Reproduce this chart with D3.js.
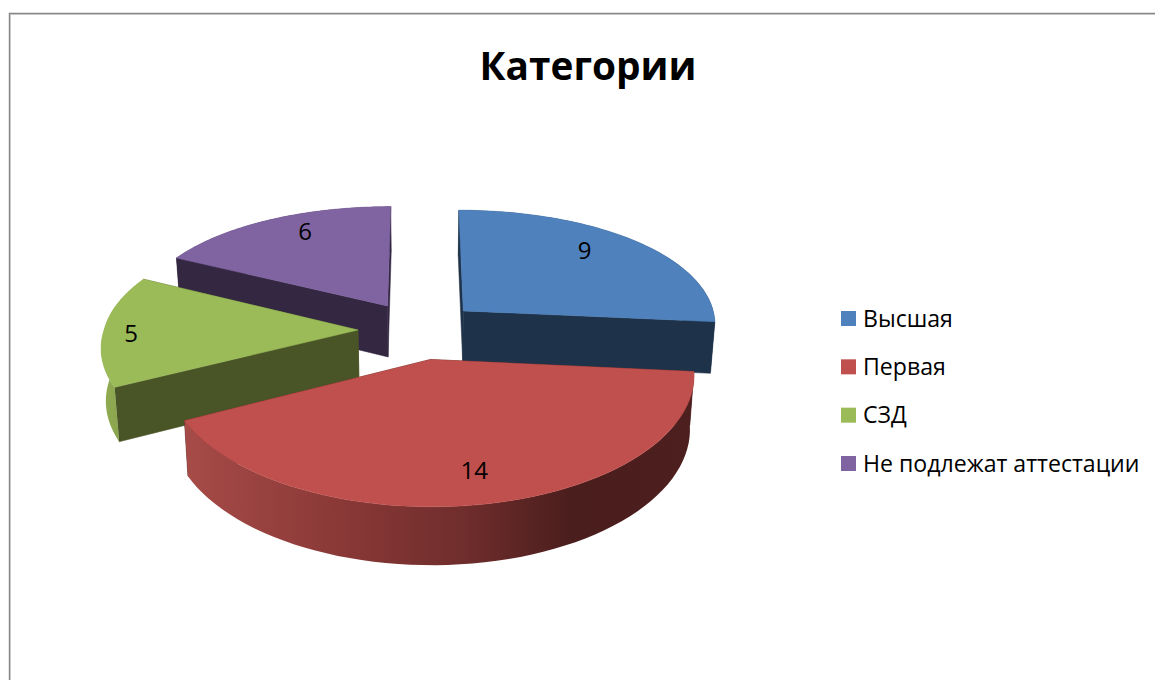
<!DOCTYPE html>
<html>
<head>
<meta charset="utf-8">
<script src="https://cdn.jsdelivr.net/npm/d3@7"></script>
<style>
  body { margin: 0; background: #fff; }
  text { font-family: "Open Sans", "Noto Sans", sans-serif; fill: #000; }
</style>
</head>
<body>
<div id="chart"></div>
<script>
var title = "Категории";
var categories = ["Высшая", "Первая", "СЗД", "Не подлежат аттестации"];
var values = [9, 14, 5, 6];

var topColors = ["#4f81bd", "#c0504d", "#9bbb59", "#8064a2"];
var wallColors = ["#1e3349", "#4d1f1e", "#4a5527", "#332741"];

var width = 1155, height = 680;
var cx = 419, cy = 330, radius = 254, tilt = 0.475;
var depth = 52, explode = 0.24, shrink = 0.985;

// where each number sits, as offset from the slice apex in radius units (u, v)
var labelPos = [[0.525, -0.56], [0.149, 0.777], [-0.89, 0.025], [-0.368, -0.717]];

var svg = d3.select("#chart").append("svg")
    .attr("width", width)
    .attr("height", height)
    .style("display", "block");

var defs = svg.append("defs");

var redGrad = defs.append("linearGradient")
    .attr("id", "redSide")
    .attr("gradientUnits", "userSpaceOnUse")
    .attr("x1", 185).attr("x2", 694).attr("y1", 0).attr("y2", 0);
[[0, "#a64b48"], [0.3, "#8a3937"], [0.55, "#6f2d2c"], [0.76, "#4a1e1d"], [1, "#4d1f1e"]].forEach(function(s) {
    redGrad.append("stop").attr("offset", s[0]).attr("stop-color", s[1]);
});

var greenGrad = defs.append("linearGradient")
    .attr("id", "greenSide")
    .attr("gradientUnits", "userSpaceOnUse")
    .attr("x1", 98).attr("x2", 118).attr("y1", 0).attr("y2", 0);
[[0, "#93af54"], [1, "#8aa54e"]].forEach(function(s) {
    greenGrad.append("stop").attr("offset", s[0]).attr("stop-color", s[1]);
});

var pie = d3.pie().sort(null);
var slices = pie(values);

// ground plane -> screen, with z = 1 being the bottom of the pie
function project(u, v, z) {
    var sx = 1 + (v < 0 ? 0.1 : 0.125) * v;
    var sy = 1 + (v < 0 ? 0.125 : 0.15) * v;
    var x = cx + radius * u * sx;
    var y = cy + radius * tilt * v * sy + z * depth * (1 + 0.1 * v);
    if (z) x = cx + (x - cx) * shrink;
    return [x, y];
}

function offset(d) {
    var mid = (d.startAngle + d.endAngle) / 2;
    return [Math.sin(mid) * explode, -Math.cos(mid) * explode];
}

function rim(d, a, z) {
    var o = offset(d);
    return project(o[0] + Math.sin(a), o[1] - Math.cos(a), z);
}

function arcAngles(d) {
    return d3.range(0, 61).map(function(i) {
        return d.startAngle + (d.endAngle - d.startAngle) * i / 60;
    });
}

var line = d3.line();

// back slices first
var drawOrder = [3, 0, 2, 1];

drawOrder.forEach(function(i) {
    var d = slices[i];
    var o = offset(d);
    var g = svg.append("g");
    var apexT = project(o[0], o[1], 0), apexB = project(o[0], o[1], 1);

    [d.startAngle, d.endAngle].forEach(function(a) {
        g.append("path")
            .attr("d", line([apexT, rim(d, a, 0), rim(d, a, 1), apexB]) + "Z")
            .attr("fill", wallColors[i])
            .attr("stroke", wallColors[i])
            .attr("stroke-width", 0.5);
    });

    var angles = arcAngles(d);
    var side = angles.map(function(a) { return rim(d, a, 0); })
        .concat(angles.slice().reverse().map(function(a) { return rim(d, a, 1); }));
    var sideFill = i === 1 ? "url(#redSide)" : i === 2 ? "url(#greenSide)" : wallColors[i];
    g.append("path")
        .attr("d", line(side) + "Z")
        .attr("fill", sideFill);

    var top = [apexT].concat(angles.map(function(a) { return rim(d, a, 0); }));
    g.append("path")
        .attr("d", line(top) + "Z")
        .attr("fill", topColors[i])
        .attr("stroke", topColors[i])
        .attr("stroke-width", 0.5);
});

// data labels
slices.forEach(function(d, i) {
    var o = offset(d);
    var p = project(o[0] + labelPos[i][0], o[1] + labelPos[i][1], 0);
    svg.append("text")
        .attr("x", p[0])
        .attr("y", p[1] + 8.5)
        .attr("text-anchor", "middle")
        .attr("font-size", 24)
        .text(d.data);
});

// frame
svg.append("path").attr("d", "M10.5,680V14.5H1155").attr("fill", "none").attr("stroke", "#dcdcdc").attr("stroke-width", 1);
svg.append("path").attr("d", "M9.5,680V13.5H1155").attr("fill", "none").attr("stroke", "#868686").attr("stroke-width", 1.4);

svg.append("text")
    .attr("x", 588)
    .attr("y", 80)
    .attr("text-anchor", "middle")
    .attr("font-size", 38.8)
    .attr("font-weight", 700)
    .text(title);

// legend
var legendY = d3.scalePoint().domain(categories).range([319, 464]);
var legend = svg.selectAll(".legend")
    .data(categories)
    .enter().append("g")
    .attr("class", "legend")
    .attr("transform", function(d) { return "translate(841," + legendY(d) + ")"; });

legend.append("rect")
    .attr("y", -8)
    .attr("width", 15)
    .attr("height", 15)
    .attr("fill", function(d, i) { return topColors[i]; });

legend.append("text")
    .attr("x", 22)
    .attr("y", 7.5)
    .attr("font-size", 23.1)
    .text(function(d) { return d; });
</script>
</body>
</html>
